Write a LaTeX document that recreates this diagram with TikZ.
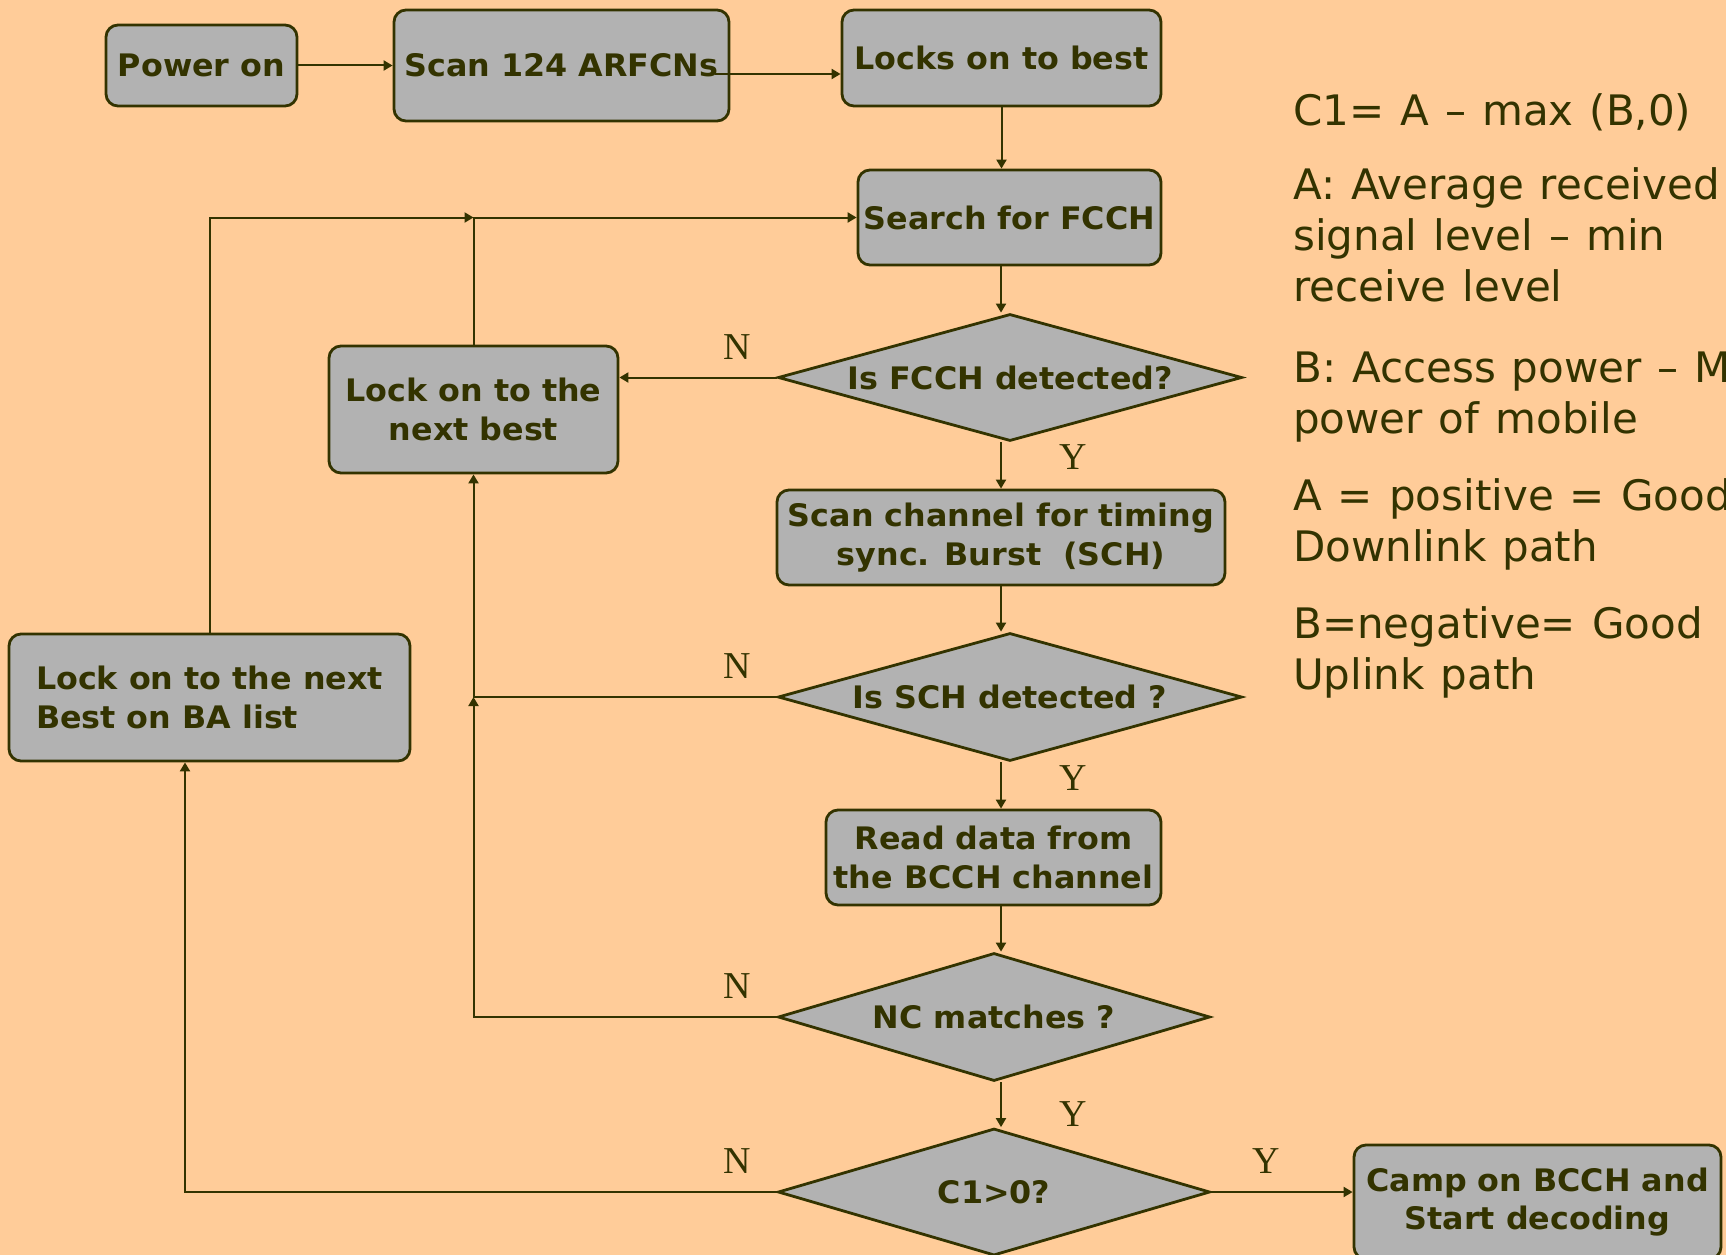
\documentclass[tikz,border=0pt]{standalone}
\usepackage{fontspec}
\setmainfont{DejaVu Sans}
\newfontfamily\boxfont[FakeStretch=1.025]{DejaVu Sans Bold}
\newfontfamily\ynfont{Liberation Serif}
\usetikzlibrary{shapes.geometric,arrows.meta}
\definecolor{bgpeach}{RGB}{255,204,153}
\definecolor{boxgray}{RGB}{178,178,178}
\definecolor{ink}{RGB}{51,51,0}
% side-note text with slightly wider word spacing
\newcommand{\sidenotefont}{\fontsize{42}{51}\selectfont\spaceskip=16pt plus 2pt\relax}

\begin{document}
\begin{tikzpicture}[x=1pt,y=-1pt,
  every node/.style={text=ink},
  proc/.style={draw=ink, fill=boxgray, line width=2.8pt, rounded corners=12pt,
    font=\boxfont\fontsize{31}{38.5}\selectfont, align=center, inner sep=0pt},
  dec/.style={diamond, draw=ink, fill=boxgray, line width=2.8pt,
    font=\boxfont\fontsize{31}{38.5}\selectfont, inner sep=0pt},
  link/.style={draw=ink, line width=2pt, -{Triangle[length=9pt,width=10pt]}},
  yn/.style={font=\ynfont\fontsize{38}{38}\selectfont, inner sep=0pt},
  note/.style={anchor=base west, inner sep=0pt, font=\sidenotefont}
]
% page and background
\fill[bgpeach] (0,0) rectangle (1726,1255);
\useasboundingbox (0,0) rectangle (1726,1255);

% process boxes
\node[proc, minimum width=191pt, minimum height=81pt] (power) at (201.5,65.5) {Power on};
\node[proc, minimum width=335pt, minimum height=111pt] (scan) at (561.5,65.5) {Scan 124 ARFCNs};
\node[proc, minimum width=319pt, minimum height=96pt] (locks) at (1001.5,58) {Locks on to best};
\node[proc, minimum width=303pt, minimum height=95pt] (search) at (1009.5,217.5) {Search for FCCH};
\node[proc, minimum width=289pt, minimum height=127pt] (best) at (473.5,409.5) {Lock on to the\\next best};
\node[proc, minimum width=448pt, minimum height=95pt] (timing) at (1001,537.5) {Scan channel for timing\\sync. Burst~~(SCH)};
\node[proc, minimum width=401pt, minimum height=127pt, align=left] (ba) at (209.5,697.5) {Lock on to the next\\Best on BA list};
\node[proc, minimum width=335pt, minimum height=95pt] (read) at (993.5,857.5) {Read data from\\the BCCH channel};
\node[proc, minimum width=367pt, minimum height=114pt] (camp) at (1537.5,1202) {Camp on BCCH and\\Start decoding};

% decisions
\node[dec, shape aspect=3.65, minimum width=464pt, minimum height=127pt] (fcch) at (1010,377.5) {Is FCCH detected?};
\node[dec, shape aspect=3.65, minimum width=464pt, minimum height=128pt] (sch) at (1010,697) {Is SCH detected ?};
\node[dec, shape aspect=3.4, minimum width=432pt, minimum height=128pt] (nc) at (994,1017) {NC matches ?};
\node[dec, shape aspect=3.4, minimum width=432pt, minimum height=127pt] (c1) at (994,1192) {C1>0?};

% helper columns
\coordinate (colx) at (1001,0);
\coordinate (sx) at (715,74);
\coordinate (bain) at (185,0);

% connectors
\draw[link] (power) -- (scan);
\draw[link] (sx) -- (sx -| locks.west);
\draw[link] (locks.south) -- (locks.south |- search.north);
\draw[link] (colx |- search.south) -- (colx |- fcch.north);
\draw[link] (fcch.west) -- (fcch.west -| best.east);
\draw[link] (colx |- fcch.south) -- (colx |- timing.north);
\draw[link] (colx |- timing.south) -- (colx |- sch.north);
\draw[link] (sch.west) -| (best.south);
\draw[link] (colx |- sch.south) -- (colx |- read.north);
\draw[link] (colx |- read.south) -- (colx |- nc.north);
\draw[link] (nc.west) -| (best.south |- sch.west);
\draw[link] (colx |- nc.south) -- (colx |- c1.north);
\draw[link] (best.north) |- (search.west);
\draw[link] (ba.north) |- (best.north |- search.west);
\draw[link] (c1.west) -| (bain |- ba.south);
\draw[link] (c1.east) -- (camp.west |- c1.east);

% branch labels
\node[yn] (n1) at (737.5,347) {N};
\node[yn] (n2) at (737.5,666) {N};
\node[yn] (n3) at (737.5,986) {N};
\node[yn] (n4) at (737.5,1161) {N};
\node[yn] (y1) at (1073,457) {Y};
\node[yn] (y2) at (1073,778) {Y};
\node[yn] (y3) at (1073,1114) {Y};
\node[yn] (y4) at (1266,1161) {Y};

% side notes
\node[note] (t1) at (1293,125) {C1= A – max (B,0)};
\node[note] (t2) at (1293,199) {A: Average received};
\node[note] (t3) at (1293,250) {signal level – min};
\node[note] (t4) at (1293,301) {receive level};
\node[note] (t5) at (1293,382) {B: Access power – M};
\node[note] (t6) at (1293,433) {power of mobile};
\node[note] (t7) at (1293,510) {A = positive = Good};
\node[note] (t8) at (1293,561) {Downlink path};
\node[note] (t9) at (1293,638) {B=negative= Good};
\node[note] (t10) at (1293,689) {Uplink path};
\end{tikzpicture}
\end{document}
